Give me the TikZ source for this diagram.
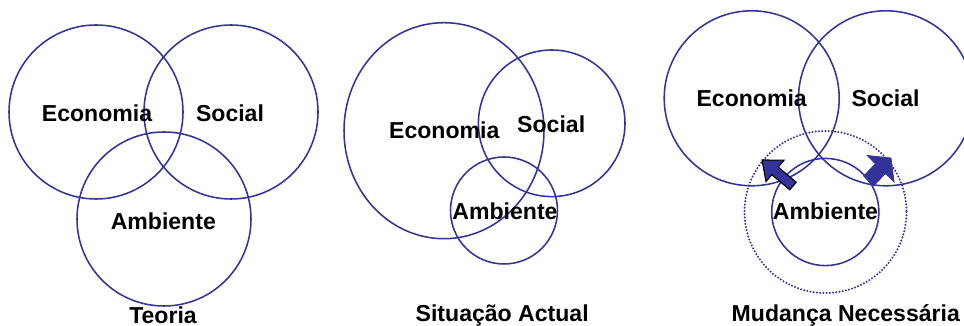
\documentclass[tikz,border=0pt]{standalone}
\usepackage{fontspec}
\setmainfont{Liberation Sans}
\definecolor{vennblue}{RGB}{51, 51, 153}
\usetikzlibrary{positioning}
\tikzset{
	ring/.style={draw=vennblue, line width=1.1pt},
	dotring/.style={draw=vennblue, line width=1.6pt, line cap=round, dash pattern=on 0pt off 2.3pt},
	lbl/.style={anchor=base, inner sep=0pt, font=\fontsize{16.4}{18}\selectfont\bfseries},
	pushout/.style={fill=vennblue, draw=black, line width=0.8pt, line join=miter},
	pushin/.style={fill=vennblue, draw=vennblue, line width=0.5pt, line join=miter},
}

\begin{document}
\begin{tikzpicture}[x=0.025cm, y=-0.025cm]
		\useasboundingbox (0,0) rectangle (964,326);
		\clip (0,0) rectangle (964,326);
		% Teoria
		\draw[ring] (96,112) circle[radius=87];
		\draw[ring] (231,112) circle[radius=87];
		\draw[ring] (164,219) circle[radius=87];
		\node[lbl] (eco1) at (97,121.7) {Economia};
		\node[lbl] (soc1) at (230,121.7) {Social};
		\node[lbl] (amb1) at (163.3,229.3) {Ambiente};
		\node[lbl] (teoria) at (163,323) {Teoria};
		% Situacao actual
		\draw[ring] (444,130.7) ellipse[x radius=100, y radius=108];
		\draw[ring] (551.7,123.3) circle[radius=73.3];
		\draw[ring] (504,210.5) circle[radius=53.5];
		\node[lbl] (eco2) at (444.3,139) {Economia};
		\node[lbl] (soc2) at (551.2,132.7) {Social};
		\node[lbl] (amb2) at (505,219.3) {Ambiente};
		\node[lbl] (actual) at (502.2,321.7) {Situação Actual};
		% Mudanca necessaria
		\draw[ring] (751.7,98.3) circle[radius=87.5];
		\draw[ring] (886,98.3) circle[radius=87.5];
		\draw[ring] (825.3,212) circle[radius=53.6];
		\draw[dotring] (825.5,212) circle[radius=81];
		\draw[pushout] (796.2,182.2) -- (778.2,167.1) -- (784.0,160.2) -- (762,160)
			-- (766.0,181.6) -- (771.8,174.7) -- (789.8,189.8) -- cycle;
		\draw[pushin] (863.6,176.0) -- (875.5,163.8) -- (866.9,155.4) -- (891,158)
			-- (894.1,182.0) -- (885.5,173.6) -- (873.6,185.8) -- cycle;
		\node[lbl] (eco3) at (751.7,106.7) {Economia};
		\node[lbl] (soc3) at (885.5,106.7) {Social};
		\node[lbl] (amb3) at (825.5,220) {Ambiente};
		\node[lbl] (mudanca) at (845.8,321.7) {Mudança Necessária};
	\end{tikzpicture}
\end{document}
